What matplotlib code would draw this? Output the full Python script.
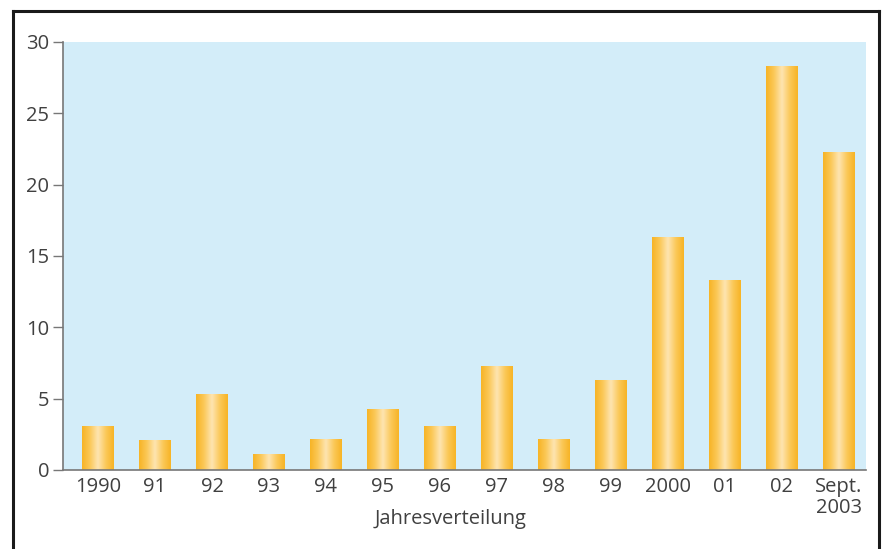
import numpy as np
import matplotlib
matplotlib.use('Agg')
import matplotlib.pyplot as plt
from matplotlib.colors import LinearSegmentedColormap
from matplotlib.lines import Line2D

matplotlib.rcParams['font.family'] = ['Open Sans', 'DejaVu Sans']
matplotlib.rcParams['font.size'] = 14.5

labels = ['1990', '91', '92', '93', '94', '95', '96', '97', '98', '99',
          '2000', '01', '02', 'Sept.\n2003']
values = [3.1, 2.1, 5.3, 1.1, 2.2, 4.3, 3.1, 7.3, 2.2, 6.3,
          16.3, 13.3, 28.3, 22.3]

txt = '#404040'
fig = plt.figure(figsize=(8.84, 5.49), dpi=100)
ax = fig.add_axes([0.0713, 0.1439, 0.908, 0.7796])
ax.set_facecolor('#d3edf9')

# gradient bars: orange edges, pale centre
cmap = LinearSegmentedColormap.from_list('bar', ['#f7b426', '#fbc95a', '#fee5b2', '#fbc95a', '#f7b426'])
grad = np.linspace(0, 1, 64).reshape(1, -1)
w = 0.56
x = np.arange(len(values))
bars = ax.bar(x, values, width=w, color='none', edgecolor='none')
for b in bars:
    x0, y0 = b.get_x(), b.get_y()
    im = ax.imshow(grad, cmap=cmap, aspect='auto', extent=[x0, x0 + b.get_width(), y0, y0 + b.get_height()],
                   zorder=2, interpolation='bicubic')
    im.set_clip_path(b)

ax.set_xlim(-0.614, 13.47)
ax.set_ylim(0, 30)
ax.set_yticks([0, 5, 10, 15, 20, 25, 30])
ax.set_xticks(x)
ax.set_xticklabels(labels, color=txt, va='top', linespacing=1.1)
ax.tick_params(axis='x', length=0, pad=5)
ax.tick_params(axis='y', length=7, width=1, color='#777777', labelcolor=txt, pad=3)
for s in ['top', 'right']:
    ax.spines[s].set_visible(False)
ax.spines['left'].set_color('#777777')
ax.spines['bottom'].set_color('#777777')
ax.spines['left'].set_linewidth(1.2)
ax.spines['bottom'].set_linewidth(1.2)
ax.set_xlabel('Jahresverteilung', color=txt)
ax.xaxis.set_label_coords(0.483, -0.092)

# frame around the figure
fx0, fx1, fy = 13 / 884, 879 / 884, 1 - 11 / 549
for xs, ys in [([fx0, fx0], [0, fy]), ([fx0, fx1], [fy, fy]), ([fx1, fx1], [fy, 0])]:
    fig.add_artist(Line2D(xs, ys, color='#1a1a1a', lw=2.2, transform=fig.transFigure))

plt.savefig('out.png', dpi=100)
